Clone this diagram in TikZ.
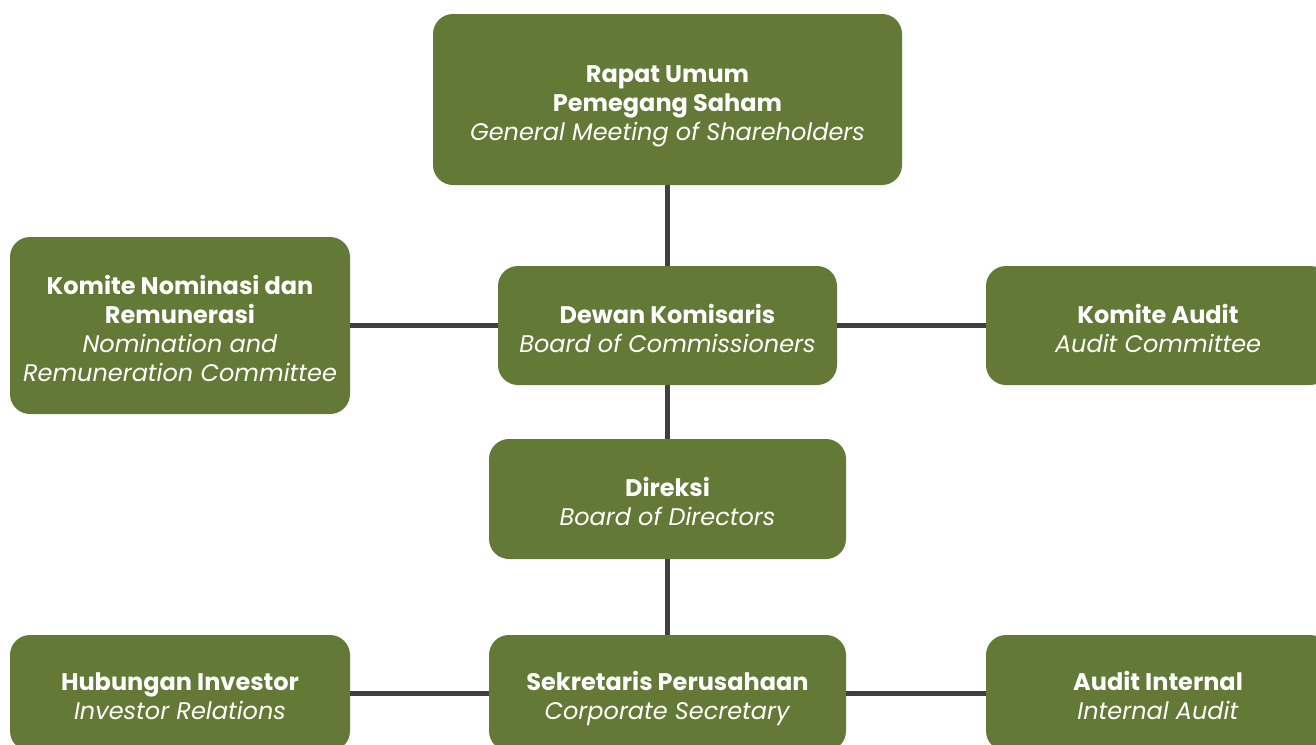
\documentclass[tikz,border=0pt]{standalone}
\usepackage{fontspec}
\setmainfont{Poppins}
\definecolor{boxgreen}{HTML}{627A35}
\definecolor{linegray}{HTML}{3F3F3F}
% first line: tall strut; other lines: regular strut
\newcommand{\fb}[1]{\rule[-9pt]{0pt}{42pt}\textbf{#1}}
\newcommand{\bl}[1]{\rule[-9pt]{0pt}{29pt}\textbf{#1}}
\newcommand{\il}[1]{\rule[-9pt]{0pt}{29pt}\textit{#1}}
\tikzset{
  orgbox/.style={draw=none, fill=boxgreen, rounded corners=20pt, text=white,
    align=center, inner sep=0pt, font=\fontsize{24}{29}\selectfont},
  link/.style={draw=linegray, line width=5pt}
}
\begin{document}
\begin{tikzpicture}[x=1pt,y=-1pt]
\useasboundingbox (0,0) rectangle (1316,744);
\fill[white] (0,0) rectangle (1316,744);
\begin{scope}
\clip (0,0) rectangle (1316,744);
\node[orgbox, minimum width=469pt, minimum height=171pt] (gms) at (667.5,99.5)
  {\fb{Rapat Umum}\\\bl{Pemegang Saham}\\\il{General Meeting of Shareholders}};
\node[orgbox, minimum width=339pt, minimum height=119pt] (boc) at (667.5,325.5)
  {\fb{Dewan Komisaris}\\\il{Board of Commissioners}};
\node[orgbox, minimum width=340pt, minimum height=177pt] (nom) at (180,325.5)
  {\fb{Komite Nominasi dan}\\\bl{Remunerasi}\\\il{Nomination and}\\\il{Remuneration Committee}};
\node[orgbox, minimum width=344pt, minimum height=119pt] (aud) at (1158,325.5)
  {\fb{Komite Audit}\\\il{Audit Committee}};
\node[orgbox, minimum width=357pt, minimum height=120pt] (bod) at (667.5,499)
  {\fb{Direksi}\\\il{Board of Directors}};
\node[orgbox, minimum width=357pt, minimum height=116pt] (sec) at (667.5,693)
  {\fb{Sekretaris Perusahaan}\\\il{Corporate Secretary}};
\node[orgbox, minimum width=340pt, minimum height=116pt] (ir) at (180,693)
  {\fb{Hubungan Investor}\\\il{Investor Relations}};
\node[orgbox, minimum width=344pt, minimum height=116pt] (ia) at (1158,693)
  {\fb{Audit Internal}\\\il{Internal Audit}};
\draw[link] (gms.south) -- (boc.north);
\draw[link] (nom.east) -- (boc.west);
\draw[link] (boc.east) -- (aud.west);
\draw[link] (boc.south) -- (bod.north);
\draw[link] (bod.south) -- (sec.north);
\draw[link] (ir.east) -- (sec.west);
\draw[link] (sec.east) -- (ia.west);
\end{scope}
\end{tikzpicture}
\end{document}
